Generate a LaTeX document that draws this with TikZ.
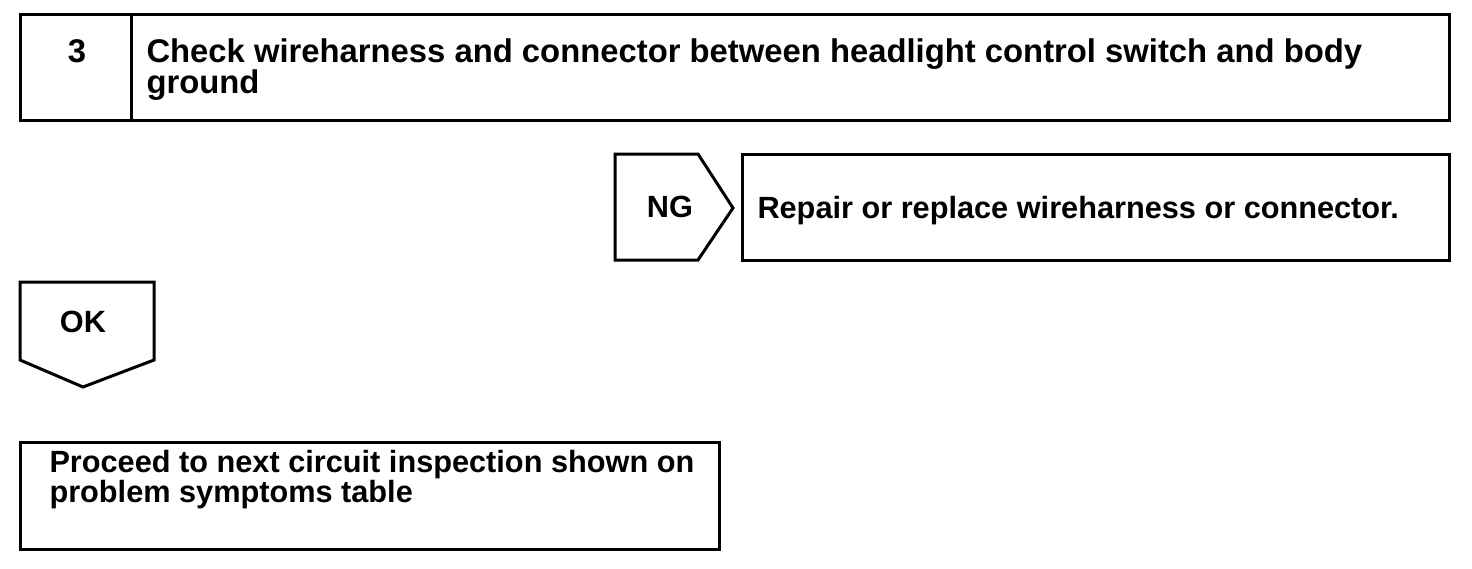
\documentclass[tikz,border=0pt]{standalone}
\usepackage{fontspec}
\setmainfont{Liberation Sans}
\begin{document}
\begin{tikzpicture}[x=1pt, y=-1pt, line width=3pt,
    box/.style={draw, inner sep=0pt, outer sep=0pt, anchor=north west},
    big/.style={font=\fontsize{32.8}{31}\selectfont\bfseries, inner sep=0pt},
    small/.style={font=\fontsize{30.7}{28}\selectfont\bfseries, inner sep=0pt}]
       \useasboundingbox (0,0) rectangle (1472,568);
       \node[box, minimum width=1429pt, minimum height=106pt] (hdr) at (20,14) {};
       \node[box, minimum width=111pt, minimum height=106pt] (numcell) at (20,14) {};
       \node[big, anchor=base] (num) at (77,62) {3};
       % base of a two-line node is its last line
       \node[big, anchor=base west, align=left] (title) at (145,93) {Check wireharness and connector between headlight control switch and body\\ground};
       \path[draw] (615,154)--(698,154)--(733,208)--(698,260)--(615,260)--cycle;
       \node[small, anchor=base] (ng) at (670,217) {NG};
       \node[box, minimum width=707pt, minimum height=106pt] (repair) at (742,154) {};
       \node[small, anchor=base west] (repairtxt) at (756,218) {Repair or replace wireharness or connector.};
       \path[draw] (20,282)--(154,282)--(154,360)--(83,387)--(20,360)--cycle;
       \node[small, anchor=base] (ok) at (83,332) {OK};
       \node[box, minimum width=699pt, minimum height=107pt] (next) at (20,442) {};
       \node[small, anchor=base west, align=left] (nexttxt) at (48,502) {Proceed to next circuit inspection shown on\\problem symptoms table};
\end{tikzpicture}
\end{document}
